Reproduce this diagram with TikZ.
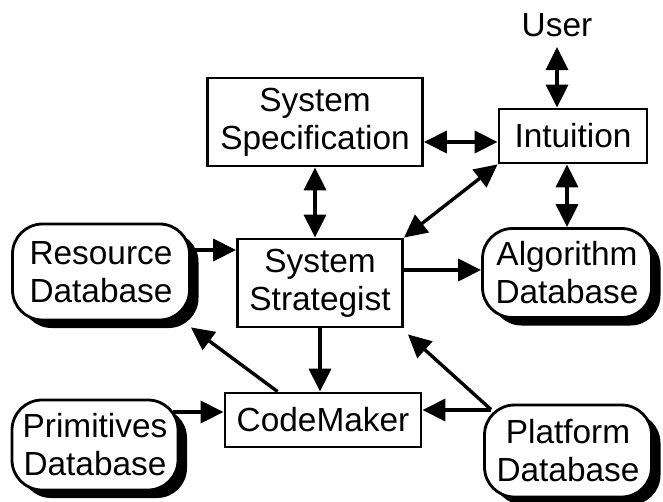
\documentclass[tikz,border=0pt]{standalone}
\usepackage{fontspec}
\setmainfont{Liberation Sans}
\usetikzlibrary{arrows.meta}
\usetikzlibrary{shadows}
\tikzstyle{box}=[draw,line width=1.4pt,align=center,inner sep=0pt,font=\fontsize{16.7}{19}\selectfont]
\tikzstyle{db}=[box,rounded corners=15pt,fill=white,drop shadow={shadow xshift=4.5pt,shadow yshift=-4pt,fill=black,opacity=1}]
\tikzstyle{edge} = [draw,line width=1.7pt,-{Triangle[length=11.5pt,width=11pt]}]

\begin{document}
\begin{tikzpicture}
		[x=0.5pt,y=-0.5pt, both/.style = {edge,{Triangle[length=11.5pt,width=11pt]}-{Triangle[length=11.5pt,width=11pt]}}]
		\useasboundingbox (0,0) rectangle (663,502);
		\node[box,minimum width=107.5pt,minimum height=44pt] (spec) at (315,122) {System\\Specification};
		\node[box,minimum width=74pt,minimum height=27pt] (intu) at (573,136) {Intuition};
		\node[font=\fontsize{16.7}{19}\selectfont,inner sep=0pt] (user) at (557,25) {User};
		\node[box,minimum width=82.5pt,minimum height=44pt] (strat) at (320,283) {System\\Strategist};
		\node[box,minimum width=98pt,minimum height=27pt] (code) at (323,420) {CodeMaker};
		\node[db,minimum width=88.5pt,minimum height=48pt] (res) at (101,272) {Resource\\Database};
		\node[db,minimum width=84.5pt,minimum height=44.5pt] (alg) at (567,273) {Algorithm\\Database};
		\node[db,minimum width=83pt,minimum height=45pt] (prim) at (95,445) {Primitives\\Database};
		\node[db,minimum width=83.5pt,minimum height=46pt] (plat) at (568,451) {Platform\\Database};
		
		\draw[both] ([yshift=-3pt]intu.west -| spec.east) -- ([yshift=-3pt]intu.west);
		\draw[both] ([yshift=-5pt]user.south) -- (user.south |- intu.north);
		\draw[both] (spec.south) -- (spec.south |- strat.north);
		\draw[both] (strat.north east) -- (intu.south west);
		\draw[both] (alg.north |- intu.south) -- (alg.north);
		\draw[edge] ([yshift=11pt]res.east) -- ([yshift=11pt]res.east -| strat.west);
		\draw[edge] ([yshift=6.5pt]strat.east) -- ([yshift=6.5pt]strat.east -| alg.west);
		\draw[edge] (strat.south) -- (strat.south |- code.north);
		\draw[edge] ([xshift=27pt]code.north west) -- ([yshift=-3pt]res.south east);
		\draw[edge] ([xshift=-3pt,yshift=4pt]code.west -| prim.east) -- ([yshift=4pt]code.west);
		\draw[edge] ([xshift=4pt,yshift=5pt]code.east -| plat.west) -- ([yshift=5pt]code.east);
		\draw[edge] ([shift={(4pt,-3pt)}]plat.north west) -- ([shift={(2pt,-3pt)}]strat.south east);
		
		\end{tikzpicture}
\end{document}
